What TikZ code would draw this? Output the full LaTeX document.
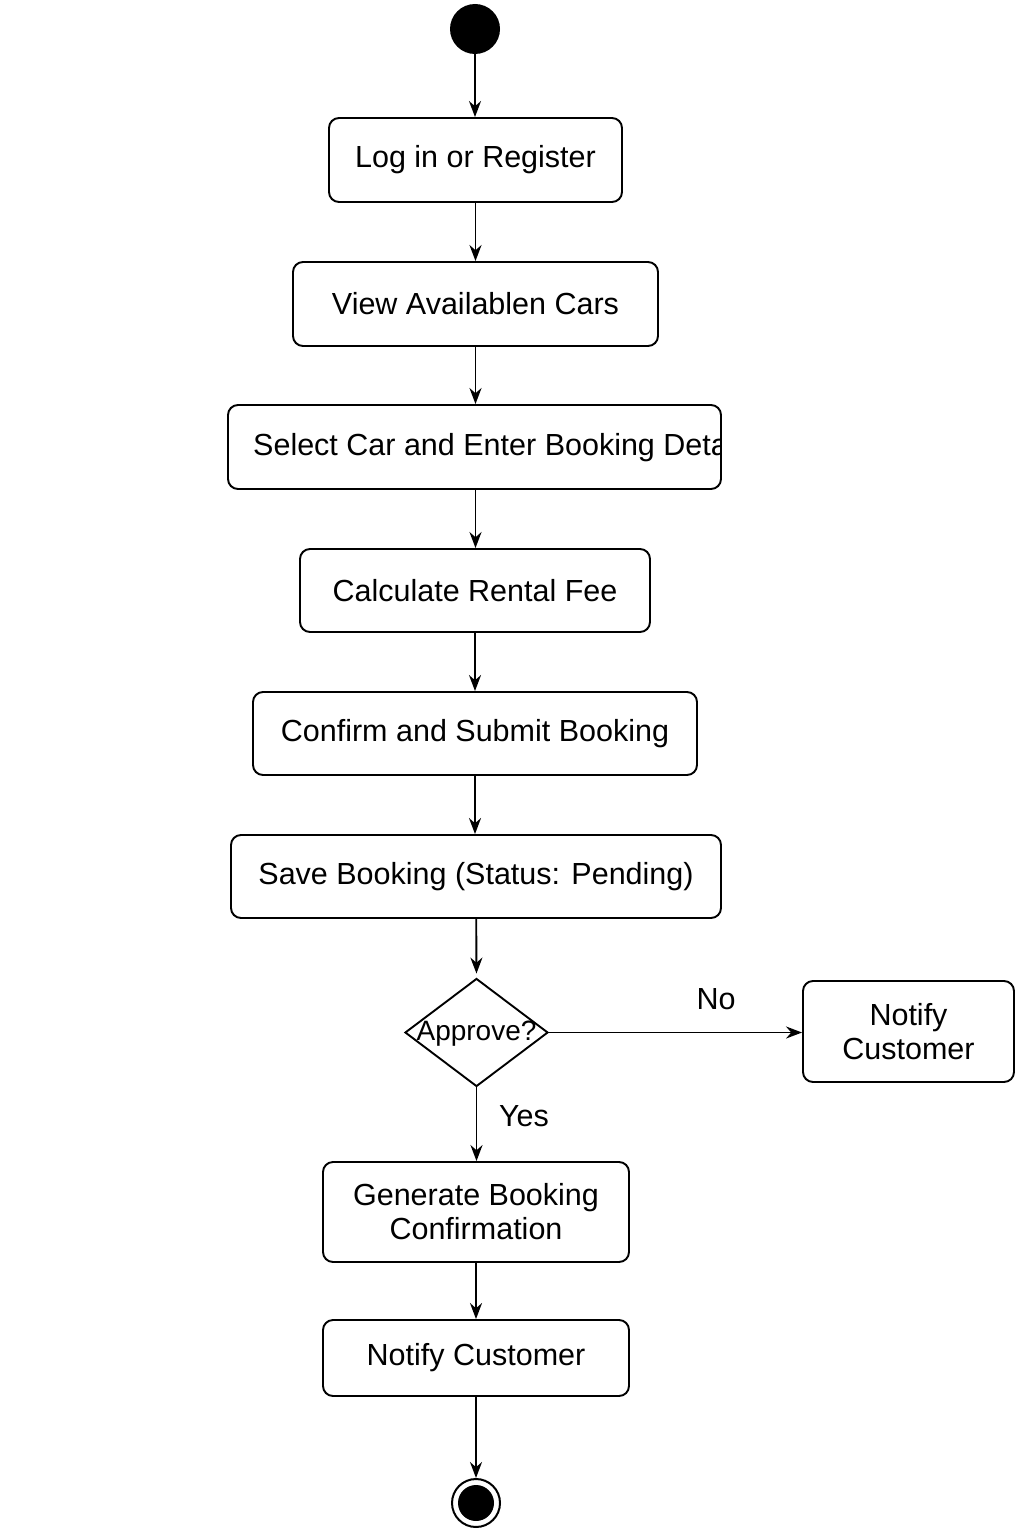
\documentclass[tikz,border=0pt]{standalone}
\usepackage{fontspec}
\setmainfont{Liberation Sans}
\usetikzlibrary{arrows.meta,shapes.geometric}
\begin{document}
\begin{tikzpicture}[x=1pt,y=-1pt,
  box/.style={draw, rounded corners=10pt, line width=1.9pt, align=center, inner sep=0pt,
    font=\fontsize{30.5}{34}\selectfont},
  txt/.style={font=\fontsize{30.5}{34}\selectfont, inner sep=0pt},
  arr/.style={line width=1.9pt, -{Stealth[length=16pt,width=12pt]}}]
\useasboundingbox[fill=white] (0,0) rectangle (1024,1536);
% start
\node[circle, fill=black, minimum size=50pt, inner sep=0pt] (start) at (475,29) {};
% boxes
\node[box, minimum width=293pt, minimum height=84pt] (login) at (475.5,160) {Log in or Register};
\node[box, minimum width=365pt, minimum height=84pt] (view) at (475.5,304) {View Availablen Cars};
\node[box, minimum width=493pt, minimum height=84pt] (select) at (474.5,447) {};
\begin{scope}
\clip (select.south west) rectangle ([xshift=-1.5pt]select.north east);
\node[txt, anchor=west] (selecttext) at (253,448) {Select Car and Enter Booking Details};
\end{scope}
\node[box, minimum width=350pt, minimum height=83pt] (calc) at (475,590.5) {Calculate Rental Fee};
\node[box, minimum width=444pt, minimum height=83pt] (confirm) at (475,733.5) {Confirm and Submit Booking};
\node[box, minimum width=490pt, minimum height=83pt] (save) at (476,876.5) {Save Booking (Status: Pending)};
% decision
\node[draw, diamond, line width=1.9pt, minimum width=143pt, minimum height=108pt, inner sep=0pt] (dec) at (476.5,1032.5) {};
\node[txt, font=\fontsize{28}{32}\selectfont] (dectext) at (476.5,1034) {Approve?};
\node[box, minimum width=211pt, minimum height=101pt] (notifyR) at (908.5,1031.5) {Notify\\Customer};
\node[box, minimum width=306pt, minimum height=100pt] (gen) at (476,1212) {Generate Booking\\Confirmation};
\node[box, minimum width=306pt, minimum height=76pt] (notifyB) at (476,1358) {Notify Customer};
% end
\node[circle, draw, line width=2pt, minimum size=48pt, inner sep=0pt] (end) at (476,1503) {};
\node[circle, fill=black, minimum size=36pt, inner sep=0pt] (endin) at (end) {};
% labels
\node[txt] (nolab) at (716,999) {No};
\node[txt] (yeslab) at (524,1116) {Yes};
% connectors
\draw[arr] (start) -- (start |- login.north);
\draw[arr] (login) -- (login |- view.north);
\draw[arr] (view) -- (view |- select.north);
\draw[arr] (select.south -| view) -- (view |- calc.north);
\draw[arr] (calc) -- (calc |- confirm.north);
\draw[arr] (confirm) -- (confirm |- save.north);
\draw[arr, shorten >=4pt] (save) -- (dec.north);
\draw[arr] (dec.east) -- (notifyR.west |- dec.east);
\draw[arr] (dec.south) -- (dec |- gen.north);
\draw[arr] (gen) -- (gen |- notifyB.north);
\draw[arr] (notifyB) -- (end.north);
\end{tikzpicture}
\end{document}
